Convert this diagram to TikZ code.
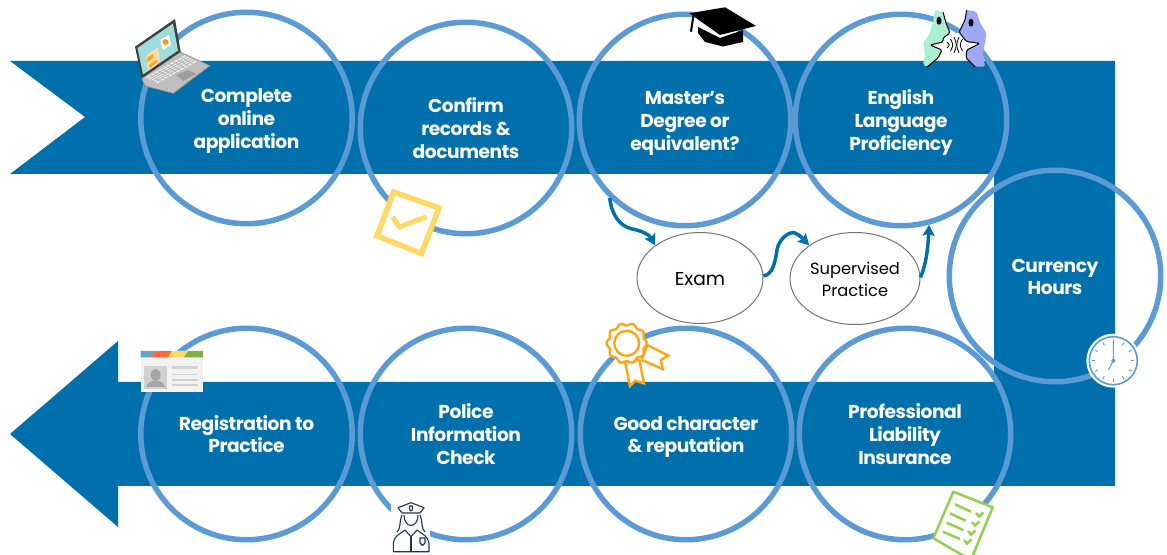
\documentclass[tikz,border=0pt]{standalone}
\usepackage{fontspec}
\setmainfont{Poppins}
\usetikzlibrary{arrows.meta,shapes.geometric}
\newlength{\pxu}\setlength{\pxu}{0.75pt}
\newcommand{\lbl}[1]{\raisebox{-2.25pt}[\height][\depth]{\begin{tabular}{@{}c@{}}#1\end{tabular}}}
\definecolor{bandblue}{HTML}{0070AD}
\definecolor{ringblue}{HTML}{5B9BD5}
\definecolor{tickyellow}{HTML}{FFD966}
\definecolor{rosette}{HTML}{FFA514}
\definecolor{listgreen}{HTML}{92D050}
\definecolor{navy}{HTML}{1F3552}
\definecolor{facegreen}{HTML}{A9F0D0}
\definecolor{facepurple}{HTML}{9FA8F5}
\definecolor{screenteal}{HTML}{9FDCDC}
\tikzset{
  band/.style={fill=bandblue,draw=none},
  stage/.style={circle,draw=ringblue,line width=5.5\pxu,minimum size=211.5\pxu,inner sep=0pt,
    text=white,font=\fontsize{14}{17}\selectfont\bfseries\addfontfeatures{LetterSpace=-2.5}},
  branch/.style={ellipse,draw=black!55,line width=1\pxu,fill=white,inner sep=0pt},
  flow/.style={draw=bandblue,line width=3.5\pxu,-{Stealth[length=8.25pt,width=9pt,inset=1.5pt]}},
  facefill/.style={rounded corners=2\pxu},
  faceline/.style={black,line width=1\pxu,rounded corners=1.5\pxu},
}
\begin{document}
\begin{tikzpicture}[x=0.75pt,y=-0.75pt]
\useasboundingbox (0,0) rectangle (1167,555);
\clip (0,0) rectangle (1167,555);
% band
\fill[band] (10,61) -- (1115,61) -- (1115,486) -- (118,486) -- (118,527) -- (10,434) -- (118,341) -- (118,382)
  -- (994,382) -- (994,174) -- (10,174) -- (85,117) -- cycle;
% stages
\node[stage] (complete) at (246.5,118) {\lbl{Complete\\online\\application}};
\node[stage] (confirm) at (466,128) {\lbl{Confirm\\records \&\\documents}};
\node[stage] (masters) at (685,120) {\lbl{Master’s\\Degree or\\equivalent?}};
\node[stage] (english) at (901,120) {\lbl{English\\Language\\Proficiency}};
\node[stage] (currency) at (1055,276) {\lbl{Currency\\Hours}};
\node[stage] (registration) at (246.5,434) {\lbl{Registration to\\Practice}};
\node[stage] (police) at (466,434) {\lbl{Police\\Information\\Check}};
\node[stage] (character) at (686,434) {\lbl{Good character\\\& reputation}};
\node[stage] (insurance) at (905,434) {\lbl{Professional\\Liability\\Insurance}};
% branch
\node[branch,minimum width=126\pxu,minimum height=91\pxu,font=\fontsize{14}{17}\selectfont] (exam) at (700,278) {\lbl{Exam}};
\node[branch,minimum width=130\pxu,minimum height=92\pxu,font=\fontsize{12.2}{16.5}\selectfont] (supervised) at (855,278.5) {\lbl{Supervised\\Practice}};
\draw[flow] (masters.226) .. controls (612,216) and (620,226) .. (632,229) .. controls (644,231) and (650,236) .. (exam.144);
\draw[flow] (exam.2) .. controls (772,275) and (775,264) .. (777,250) .. controls (779,238) and (790,231) .. (795,233) .. controls (800,235) and (804,240) .. (supervised.144);
\draw[flow] (supervised.1) .. controls (926,265) and (928,248) .. (english.-75);
% laptop
\fill[black!25,draw=black!45,line width=.7\pxu] (141.7,78.3) -- (180,52) -- (210,65.7) -- (173.3,93.3) -- (145,86) -- cycle;
\fill[black!8] (146,77.3) -- (185,55) -- (196.7,61.7) -- (157.3,83.3) -- cycle;
\foreach \t in {0.2,0.4,0.6,0.8}{
  \draw[black!30,line width=.7\pxu] ({146+\t*11.3},{77.3+\t*6}) -- ({185+\t*11.7},{55+\t*6.7});}
\foreach \t in {0.1,0.2,...,0.91}{
  \draw[black!30,line width=.7\pxu] ({146+\t*39},{77.3-\t*22.3}) -- ({157.3+\t*39.4},{83.3-\t*21.6});}
\fill[black!38] (176.7,75) -- (188.3,70) -- (196,74) -- (183.3,81) -- cycle;
\fill[black!75] (135,46.7) -- (175,19) -- (180.7,51.7) -- (141.7,78.3) -- cycle;
\fill[screenteal] (137.5,48) -- (173,23.5) -- (178,50.5) -- (143,74.5) -- cycle;
\fill[orange!30!white] (146,56) -- (158,47) -- (160,62) -- (148,71) -- cycle;
\fill[orange!70!yellow] (147,58) -- (153,54) -- (153.5,58) -- (147.5,62) -- cycle;
\fill[orange!70!yellow] (149,65) -- (157,59.5) -- (157.5,62) -- (149.5,68) -- cycle;
\fill[white] (160,40) -- (169,35) -- (171,45) -- (163,50) -- cycle;
\fill[orange!80!yellow] (165.5,42) circle[radius=3];
% check box
\draw[tickyellow,fill=white,line width=5.5\pxu,line join=miter] (393.5,192) -- (439,208) -- (421.5,253.5) -- (377,236) -- cycle;
\draw[tickyellow,line width=5\pxu] (392.7,216.7) -- (399.3,227) -- (426.7,216.7);
% mortarboard
\fill[black] (698,27) -- (720,38) -- (743,30) -- (743,42) -- (723,46.5) -- (705,42) -- (698,33) -- cycle;
\fill[black] (689.3,13.3) -- (725,7.3) -- (756,26) -- (720,35) -- cycle;
\draw[black,line width=2\pxu] (693.3,16) -- (691,31.7);
% faces
\fill[white] (930,33) rectangle (982,55);
\fill[facegreen,facefill] (935,10) -- (943,12) -- (946,23) -- (950,33) -- (943,38) -- (943,42) -- (930,45) -- (942,50) -- (938,58) -- (927,67) -- (923,65) -- (925,53) -- (923,42) -- (928,37) -- (933,23) -- cycle;
\fill[facepurple,facefill] (966.7,10) -- (976.7,11.7) -- (980,23) -- (986.7,33) -- (983,53) -- (985,66.7) -- (975,66.7) -- (966,58) -- (966.7,50) -- (980,43.3) -- (966.7,41.7) -- (959,32.3) -- (965,20) -- cycle;
\draw[faceline] (943,12) -- (946,23) -- (950,33) -- (943,38) -- (943,42) -- (930,45) -- (942,50) -- (938,58) -- (927,67);
\draw[faceline] (966.7,10) -- (965,20) -- (959,32.3) -- (966.7,41.7) -- (980,43.3) -- (966.7,50) -- (966,58) -- (975,66.7);
\fill[black] (939,20.7) ellipse[x radius=2.5,y radius=4];
\fill[black] (971,22.7) ellipse[x radius=2.5,y radius=4];
\foreach \d/\h in {947/3,950.5/6,954/8}{
  \draw[black,line width=.8\pxu] (\d,{45-\h}) .. controls ({\d+3},45) .. (\d,{45+\h});}
\foreach \d/\h in {959/8,962.5/6}{
  \draw[black,line width=.8\pxu] (\d,{45-\h}) .. controls ({\d-3},45) .. (\d,{45+\h});}
% clock
\fill[white] (1113.3,360.7) circle[radius=27];
\draw[ringblue,line width=1.6\pxu,fill=white] (1113.3,360.7) circle[radius=24];
\foreach \a in {0,30,...,330}{
  \draw[ringblue,line width=1\pxu] ({1113.3+18*cos(\a)},{360.7+18*sin(\a)}) -- ({1113.3+21*cos(\a)},{360.7+21*sin(\a)});}
\draw[ringblue,line width=1\pxu] (1113.3,339.7) -- (1113.3,360.7) -- (1108.3,370);
\fill[ringblue] (1113.3,360.7) circle[radius=2];
% ID card
\fill[black!5] (140.7,351) rectangle (203,391.7);
\fill[blue!40!black!60!cyan!60] (140.7,351) -- (155,351) -- (151,357.3) -- (140.7,357.3) -- cycle;
\fill[red!60!orange!75] (155,351) -- (172,351) -- (168,357.3) -- (151,357.3) -- cycle;
\fill[tickyellow] (172,351) -- (188,351) -- (184,357.3) -- (168,357.3) -- cycle;
\fill[listgreen!85!black] (188,351) -- (203,351) -- (203,357.3) -- (184,357.3) -- cycle;
\fill[black!18] (144,366) rectangle (167.3,389.3);
\fill[black!35] (155.7,375) ellipse[x radius=5,y radius=6];
\fill[black!35] (146.5,387) .. controls (147,381) and (152,382) .. (155.7,380) .. controls (159,382) and (164,381) .. (165,387) -- cycle;
\fill[black!18] (171.7,366) rectangle (198.3,369.5);
\foreach \yy in {374.7,380,385}{\fill[black!18] (171.7,{\yy-.8}) rectangle (198.3,{\yy+.8});}
% police
\fill[white] (391,501.5) rectangle (430,553);
\begin{scope}[navy,line width=1.1\pxu,line join=round]
\draw (398,507.7) -- (411,502.7) -- (424,507.7) -- (420,513) -- (402,513) -- cycle;
\draw (402,515) .. controls (399,522) and (401,529) .. (397,532);
\draw (420,515) .. controls (423,522) and (421,529) .. (425,532);
\draw (404,515) .. controls (404,529) and (418,529) .. (418,515);
\draw (393.3,551.7) -- (393.3,543) .. controls (394,536) and (400,534) .. (405,530) -- (411,536.7) -- (417,530) .. controls (422,534) and (428,536) .. (429,543) -- (429,551.7) -- cycle;
\draw (411,536.7) -- (411,551.7);
\draw (420,538) -- (425,538) -- (425,543) -- (422.5,545.5) -- (420,543) -- cycle;
\draw (409.5,506) -- (412.5,506) -- (412.5,509.5) -- (411,511) -- (409.5,509.5) -- cycle;
\end{scope}
% rosette
\draw[rosette,fill=white,line width=2.4\pxu,line join=miter] (625,361.7) -- (630,386) -- (635,380.7) -- (644,383.3) -- (639.3,360) -- cycle;
\draw[rosette,fill=white,line width=2.4\pxu,line join=miter] (647.3,345) -- (668.3,355.7) -- (661,360) -- (662.7,369) -- (641.7,360) -- cycle;
\draw[rosette,fill=white,line width=2.4\pxu] plot[domain=0:360,samples=145,smooth] ({626.7+(19+1.2*cos(10*\x))*cos(\x)},{343.3+(19+1.2*cos(10*\x))*sin(\x)}) -- cycle;
\draw[rosette,line width=2.4\pxu] (626.7,343.3) circle[radius=12.5];
% checklist
\draw[listgreen,fill=white,line width=2.5\pxu,line join=round] (953.3,491.7) -- (992.7,507.3) -- (971,560) -- (933.3,538.3) -- cycle;
\begin{scope}[listgreen,line width=2.5\pxu]
\draw (955,504.3) -- (971,511.7);
\draw (950,513.3) -- (965.7,520.7);
\draw (946.7,522.7) -- (963.3,530);
\draw (942.7,531.7) -- (960,539);
\draw (976,513) -- (979,516.5) -- (983.5,512.5);
\draw (972,522) -- (975,525.5) -- (979.5,521.5);
\draw (968,531) -- (971,534.5) -- (975.5,530.5);
\draw (964,540) -- (967,543.5) -- (971.5,539.5);
\end{scope}
\end{tikzpicture}
\end{document}
